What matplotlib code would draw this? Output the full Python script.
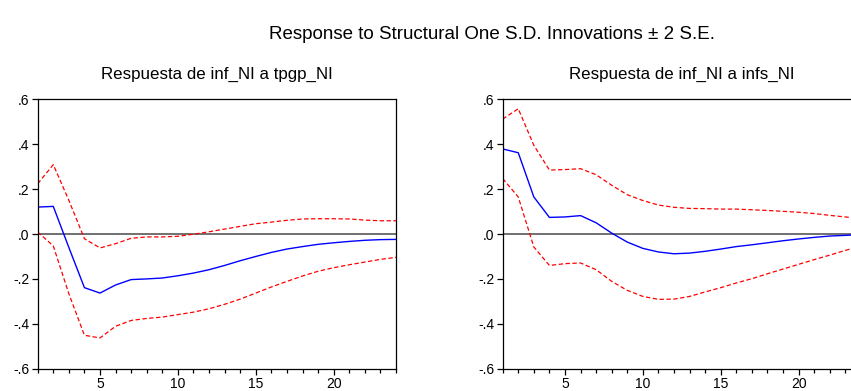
import matplotlib.pyplot as plt
from matplotlib.ticker import FixedLocator, FuncFormatter

plt.rcParams["font.family"] = ["Liberation Sans", "DejaVu Sans"]

# ----------------------------
# Datos
# ----------------------------
periodos = list(range(1, 25))

# Respuesta de inf_NI a tpgp_NI
resp_tpgp = [0.120, 0.123, -0.060, -0.239, -0.263, -0.227, -0.203, -0.200,
             -0.196, -0.186, -0.174, -0.159, -0.140, -0.119, -0.100, -0.082,
             -0.067, -0.056, -0.046, -0.039, -0.033, -0.028, -0.025, -0.024]
sup_tpgp = [0.224, 0.309, 0.150, -0.021, -0.062, -0.043, -0.019, -0.013,
            -0.013, -0.010, -0.001, 0.010, 0.022, 0.034, 0.046, 0.053,
            0.061, 0.067, 0.068, 0.068, 0.067, 0.062, 0.059, 0.059]
inf_tpgp = [0.009, -0.053, -0.266, -0.451, -0.463, -0.411, -0.385, -0.376,
            -0.370, -0.359, -0.348, -0.333, -0.313, -0.290, -0.263, -0.236,
            -0.211, -0.187, -0.166, -0.150, -0.137, -0.125, -0.113, -0.104]

# Respuesta de inf_NI a infs_NI
resp_infs = [0.379, 0.362, 0.165, 0.074, 0.076, 0.082, 0.050, 0.004,
             -0.036, -0.064, -0.080, -0.088, -0.085, -0.077, -0.067, -0.056,
             -0.048, -0.039, -0.030, -0.022, -0.015, -0.009, -0.006, -0.003]
sup_infs = [0.512, 0.558, 0.395, 0.285, 0.287, 0.291, 0.264, 0.217,
            0.175, 0.149, 0.129, 0.119, 0.114, 0.113, 0.111, 0.111,
            0.108, 0.105, 0.101, 0.097, 0.091, 0.083, 0.076, 0.068]
inf_infs = [0.247, 0.165, -0.058, -0.140, -0.132, -0.129, -0.159, -0.211,
            -0.251, -0.278, -0.291, -0.290, -0.278, -0.258, -0.239, -0.218,
            -0.199, -0.177, -0.156, -0.135, -0.114, -0.094, -0.073, -0.053]

titulos = ["Respuesta de inf_NI a tpgp_NI", "Respuesta de inf_NI a infs_NI"]
y_ticks = [-0.6, -0.4, -0.2, 0.0, 0.2, 0.4, 0.6]
x_ticks = [5, 10, 15, 20]


def fmt_y(v, pos):
    s = f"{v:.1f}".replace("0.", ".")
    return s


fig = plt.figure(figsize=(8.51, 3.91), dpi=100)
fig.text(0.578, 0.913, "Response to Structural One S.D. Innovations \u00b1 2 S.E.",
         ha="center", va="center", fontsize=13.5)

posiciones = [[0.0443, 0.057, 0.421, 0.689], [0.5907, 0.057, 0.421, 0.689]]
series = [(resp_tpgp, sup_tpgp, inf_tpgp), (resp_infs, sup_infs, inf_infs)]

for pos, titulo, (resp, sup, inf) in zip(posiciones, titulos, series):
    ax = fig.add_axes(pos)
    ax.axhline(0, color="#707070", lw=1.4, zorder=1)
    ax.plot(periodos, sup, color="red", ls=(0, (3.5, 2)), lw=0.9)
    ax.plot(periodos, inf, color="red", ls=(0, (3.5, 2)), lw=0.9)
    ax.plot(periodos, resp, color="blue", lw=1.0)
    ax.set_xlim(1, 24)
    ax.set_ylim(-0.6, 0.6)
    ax.yaxis.set_major_locator(FixedLocator(y_ticks))
    ax.yaxis.set_major_formatter(FuncFormatter(fmt_y))
    ax.xaxis.set_major_locator(FixedLocator(x_ticks))
    ax.xaxis.set_minor_locator(FixedLocator(periodos))
    ax.tick_params(axis="both", which="major", direction="out", length=4,
                   width=0.9, labelsize=10, pad=2)
    ax.tick_params(axis="x", which="minor", direction="out", length=3, width=0.9)
    ax.tick_params(top=False, right=False)
    for sp in ax.spines.values():
        sp.set_linewidth(0.9)
    ax.set_title(titulo, fontsize=12.2, pad=15)

fig.savefig("out.png", dpi=100)
